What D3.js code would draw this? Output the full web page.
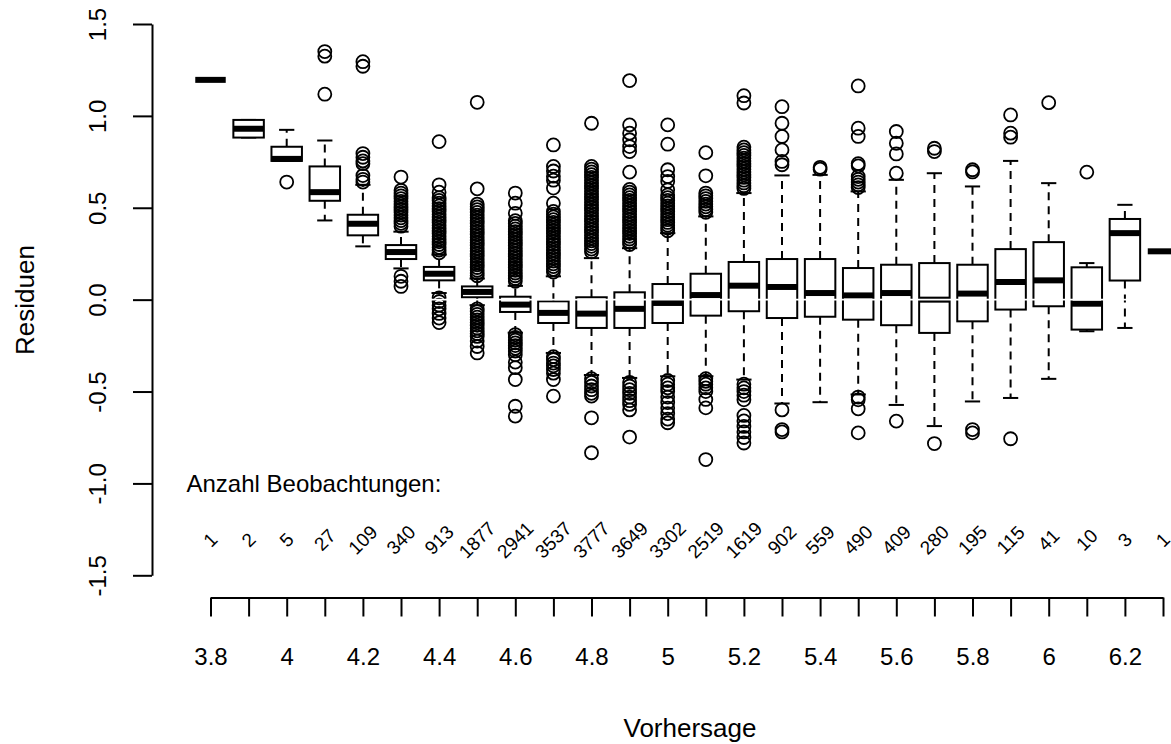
<!DOCTYPE html>
<html><head><meta charset="utf-8">
<script src="https://cdn.jsdelivr.net/npm/d3@7"></script>
<style>
body{margin:0;background:#fff}
svg{display:block;font-family:"Liberation Sans",Arial,Helvetica,sans-serif}
</style>
</head><body>
<svg id="c" width="1171" height="744"></svg>
<script>
// ---- data ----
const categories = ["3.8","3.9","4","4.1","4.2","4.3","4.4","4.5","4.6","4.7","4.8","4.9","5","5.1","5.2","5.3","5.4","5.5","5.6","5.7","5.8","5.9","6","6.1","6.2","6.3"];
const tickLabels = ["3.8","4","4.2","4.4","4.6","4.8","5","5.2","5.4","5.6","5.8","6","6.2"];
const yTicks = [-1.5,-1.0,-0.5,0.0,0.5,1.0,1.5];
const counts = [1,2,5,27,109,340,913,1877,2941,3537,3777,3649,3302,2519,1619,902,559,490,409,280,195,115,41,10,3,1];

const whiskerLow  = [1.196,0.882,0.755,0.431,0.29,0.17,0.036,-0.03,-0.18,-0.29,-0.41,-0.426,-0.417,-0.417,-0.435,-0.565,-0.558,-0.516,-0.573,-0.688,-0.554,-0.535,-0.431,-0.172,-0.154,0.263];
const lowerHinge  = [1.196,0.882,0.755,0.538,0.35,0.221,0.105,0.013,-0.067,-0.127,-0.154,-0.154,-0.127,-0.087,-0.063,-0.1,-0.093,-0.109,-0.139,-0.181,-0.118,-0.054,-0.036,-0.163,0.104,0.263];
const medians     = [1.196,0.93,0.766,0.585,0.413,0.259,0.141,0.042,-0.027,-0.072,-0.076,-0.05,-0.018,0.025,0.076,0.069,0.036,0.023,0.036,0.0,0.033,0.096,0.105,-0.022,0.362,0.263];
const upperHinge  = [1.196,0.978,0.832,0.725,0.462,0.297,0.178,0.072,0.016,-0.009,0.013,0.04,0.085,0.141,0.205,0.221,0.221,0.172,0.19,0.199,0.19,0.275,0.313,0.176,0.439,0.263];
const whiskerHigh = [1.196,0.978,0.924,0.866,0.625,0.37,0.245,0.115,0.075,0.127,0.226,0.28,0.362,0.453,0.58,0.676,0.679,0.589,0.652,0.688,0.616,0.755,0.634,0.199,0.516,0.263];

const outliers = [
  [],
  [],
  [0.64],
  [1.35,1.325,1.118],
  [1.295,1.27,0.795,0.775,0.755,0.74,0.675,0.655,0.64],
  [0.667,0.595,0.58,0.565,0.55,0.535,0.52,0.505,0.49,0.475,0.46,0.445,0.43,0.415,0.40,0.127,0.10,0.072],
  [0.86,0.625,0.585,0.555,0.54,0.525,0.51,0.495,0.48,0.465,0.45,0.435,0.42,0.405,0.39,0.375,0.36,0.345,0.33,0.315,0.30,0.285,0.27,0.255,0.01,-0.01,-0.03,-0.05,-0.075,-0.10,-0.125],
  [1.074,0.603,0.52,0.505,0.49,0.475,0.46,0.445,0.43,0.415,0.40,0.385,0.37,0.355,0.34,0.325,0.31,0.295,0.28,0.265,0.25,0.235,0.22,0.205,0.19,0.175,0.16,0.145,0.13,-0.05,-0.065,-0.08,-0.095,-0.11,-0.125,-0.14,-0.155,-0.17,-0.185,-0.20,-0.225,-0.255,-0.29],
  [0.58,0.525,0.47,0.43,0.415,0.40,0.385,0.37,0.355,0.34,0.325,0.31,0.295,0.28,0.265,0.25,0.235,0.22,0.205,0.19,0.175,0.16,0.145,0.13,0.115,0.10,-0.19,-0.205,-0.22,-0.235,-0.25,-0.265,-0.28,-0.30,-0.34,-0.37,-0.435,-0.58,-0.634],
  [0.842,0.725,0.70,0.672,0.65,0.607,0.525,0.48,0.465,0.45,0.435,0.42,0.405,0.39,0.375,0.36,0.345,0.33,0.315,0.30,0.285,0.27,0.255,0.24,0.225,0.21,0.195,0.18,0.165,0.15,-0.31,-0.326,-0.345,-0.36,-0.38,-0.40,-0.435,-0.525],
  [0.96,0.725,0.71,0.695,0.68,0.665,0.65,0.635,0.62,0.605,0.59,0.575,0.56,0.545,0.53,0.515,0.50,0.485,0.47,0.455,0.44,0.425,0.41,0.395,0.38,0.365,0.35,0.335,0.32,0.305,0.29,0.275,0.26,-0.43,-0.45,-0.47,-0.49,-0.51,-0.525,-0.643,-0.833],
  [1.192,0.951,0.906,0.87,0.833,0.806,0.694,0.60,0.585,0.57,0.555,0.54,0.525,0.51,0.495,0.48,0.465,0.45,0.435,0.42,0.405,0.39,0.375,0.36,0.345,0.33,0.315,0.30,-0.45,-0.47,-0.49,-0.51,-0.53,-0.55,-0.57,-0.60,-0.748],
  [0.951,0.846,0.707,0.67,0.643,0.598,0.57,0.555,0.54,0.525,0.51,0.495,0.48,0.465,0.45,0.435,0.42,0.405,0.39,0.375,-0.44,-0.46,-0.48,-0.50,-0.53,-0.56,-0.59,-0.62,-0.65,-0.67],
  [0.80,0.674,0.58,0.565,0.55,0.535,0.52,0.505,0.49,0.475,-0.43,-0.444,-0.46,-0.48,-0.50,-0.543,-0.589,-0.87],
  [1.11,1.07,0.83,0.815,0.80,0.785,0.77,0.755,0.74,0.725,0.71,0.695,0.68,0.665,0.65,0.635,0.62,0.605,-0.46,-0.48,-0.50,-0.52,-0.545,-0.63,-0.66,-0.69,-0.72,-0.75,-0.78],
  [1.05,0.96,0.888,0.815,0.752,0.734,-0.60,-0.707,-0.72],
  [0.72,0.71],
  [1.163,0.933,0.888,0.74,0.728,0.67,0.655,0.64,0.625,0.61,-0.53,-0.545,-0.594,-0.725],
  [0.915,0.851,0.793,0.688,-0.661],
  [0.824,0.806,-0.783],
  [0.707,0.695,-0.707,-0.725],
  [1.005,0.906,0.884,-0.757],
  [1.072],
  [0.694],
  [],
  []
];

const xTitle = "Vorhersage";
const yTitle = "Residuen";
const countTitle = "Anzahl Beobachtungen:";

// ---- chart ----
const svg = d3.select("#c");
svg.append("rect").attr("width",1171).attr("height",744).attr("fill","#fff");

const x = d3.scalePoint().domain(categories).range([210.5, 1163]);
const y = d3.scaleLinear().domain([-1.5, 1.5]).range([575.3, 24]);
const bw = x.step() * 0.8;
const sw = bw * 0.5;

const data = categories.map((c, i) => ({
  c, lo: whiskerLow[i], q1: lowerHinge[i], med: medians[i], q3: upperHinge[i], hi: whiskerHigh[i], out: outliers[i]
}));

const g = svg.append("g");
const bx = g.selectAll("g.box").data(data).join("g").attr("class","box");

// whiskers (dashed)
bx.append("line")
  .attr("x1", d => x(d.c)).attr("x2", d => x(d.c))
  .attr("y1", d => y(d.q3)).attr("y2", d => y(d.hi))
  .attr("stroke","#000").attr("stroke-width",2).attr("stroke-dasharray","8,6");
bx.append("line")
  .attr("x1", d => x(d.c)).attr("x2", d => x(d.c))
  .attr("y1", d => y(d.q1)).attr("y2", d => y(d.lo))
  .attr("stroke","#000").attr("stroke-width",2).attr("stroke-dasharray","8,6");
// staples
bx.append("line")
  .attr("x1", d => x(d.c) - sw/2).attr("x2", d => x(d.c) + sw/2)
  .attr("y1", d => y(d.hi)).attr("y2", d => y(d.hi))
  .attr("stroke","#000").attr("stroke-width",2);
bx.append("line")
  .attr("x1", d => x(d.c) - sw/2).attr("x2", d => x(d.c) + sw/2)
  .attr("y1", d => y(d.lo)).attr("y2", d => y(d.lo))
  .attr("stroke","#000").attr("stroke-width",2);
// box
bx.append("rect")
  .attr("x", d => x(d.c) - bw/2).attr("width", bw)
  .attr("y", d => y(d.q3)).attr("height", d => Math.max(0, y(d.q1) - y(d.q3)))
  .attr("fill","#fff").attr("stroke","#000").attr("stroke-width",2);
// median
bx.append("line")
  .attr("x1", d => x(d.c) - bw/2).attr("x2", d => x(d.c) + bw/2)
  .attr("y1", d => y(d.med)).attr("y2", d => y(d.med))
  .attr("stroke","#000").attr("stroke-width",6);
// outliers
bx.selectAll("circle").data(d => d.out.map(v => ({c: d.c, v}))).join("circle")
  .attr("cx", d => x(d.c)).attr("cy", d => y(d.v)).attr("r", 6.5)
  .attr("fill","none").attr("stroke","#000").attr("stroke-width",1.8);

// white zero line
g.append("line").attr("x1",153).attr("x2",1171).attr("y1",y(0)).attr("y2",y(0))
  .attr("stroke","#fff").attr("stroke-width",1.8);

// y axis
const ya = svg.append("g").attr("transform","translate(152,0)")
  .call(d3.axisLeft(y).tickValues(yTicks).tickSize(19).tickSizeOuter(0).tickFormat(d => d.toFixed(1)));
ya.select(".domain").attr("stroke-width",2);
ya.selectAll(".tick line").attr("stroke-width",2);
ya.selectAll(".tick text").attr("x",0).attr("dy",0)
  .attr("transform","translate(-46,0) rotate(-90)")
  .attr("text-anchor","middle").attr("font-size",24).attr("fill","#000")
  .style("font-family",'"Liberation Sans",Arial,sans-serif');

// x axis
const xa = svg.append("g").attr("transform","translate(0,597.5)")
  .call(d3.axisBottom(x).tickSize(19).tickSizeOuter(0).tickFormat(d => tickLabels.includes(d) ? d : ""));
xa.select(".domain").attr("stroke-width",2);
xa.selectAll(".tick line").attr("stroke-width",2);
xa.selectAll(".tick text").attr("y",67.5).attr("dy",0)
  .attr("font-size",24).attr("fill","#000")
  .style("font-family",'"Liberation Sans",Arial,sans-serif');

// counts
svg.append("text").attr("x",186.5).attr("y",491.5).attr("font-size",24).text(countTitle);
svg.selectAll("text.cnt").data(categories).join("text").attr("class","cnt")
  .attr("transform", (d,i) => `translate(${x(d)},540) rotate(-45)`)
  .attr("text-anchor","middle").attr("dominant-baseline","central")
  .attr("font-size",19).text((d,i) => counts[i]);

// titles
svg.append("text").attr("x",690).attr("y",737).attr("text-anchor","middle").attr("font-size",26).text(xTitle);
svg.append("text").attr("transform","translate(34,300) rotate(-90)").attr("text-anchor","middle").attr("font-size",26).text(yTitle);
</script>
</body></html>
